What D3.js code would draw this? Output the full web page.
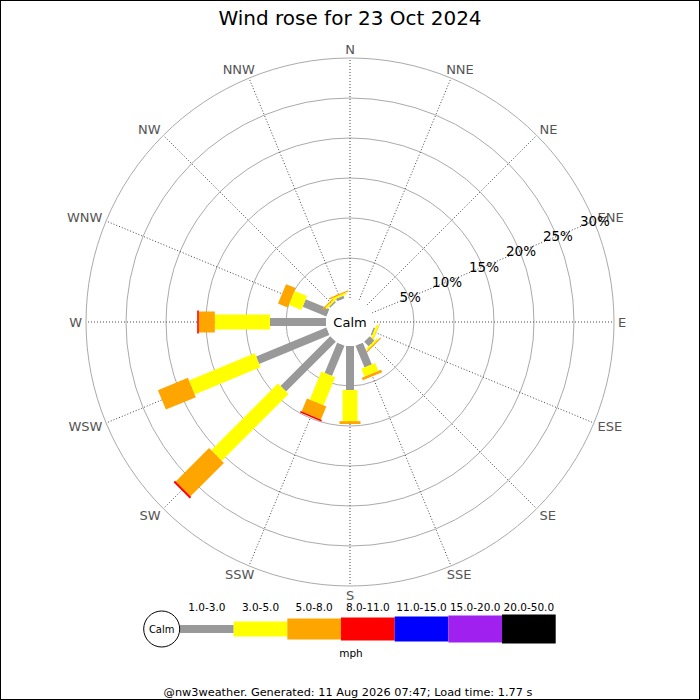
<!DOCTYPE html>
<html>
<head>
<meta charset="utf-8">
<script src="https://cdn.jsdelivr.net/npm/d3@7"></script>
<style>
  body { margin: 0; background: #fff; }
  text { font-family: "DejaVu Sans", sans-serif; }
</style>
</head>
<body>
<script>
var directions = ["N","NNE","NE","ENE","E","ESE","SE","SSE","S","SSW","SW","WSW","W","WNW","NW","NNW"]
var speedBins = ["1.0-3.0","3.0-5.0","5.0-8.0","8.0-11.0","11.0-15.0","15.0-20.0","20.0-50.0"]
// percent of the day per direction, one array per speed bin
var bin1 = [0,0,0,0,0,0.2,0.8,2.95,5.5,4.1,8.8,9.5,7.0,3.2,0.2,0.35]
var bin2 = [0,0,0,0,0,0.3,0.25,1.05,3.9,3.8,11.8,8.9,6.9,1.7,0.25,0.25]
var bin3 = [0,0,0,0,0,0.05,0.15,0.35,0.35,1.75,5.9,4.05,2.0,1.3,0.15,0.15]
var bin4 = [0,0,0,0,0,0,0,0,0,0.2,0.25,0,0.2,0,0,0]
var bin5 = [0,0,0,0,0,0,0,0,0,0,0,0,0,0,0,0]
var bin6 = [0,0,0,0,0,0,0,0,0,0,0,0,0,0,0,0]
var bin7 = [0,0,0,0,0,0,0,0,0,0,0,0,0,0,0,0]
var ringTicks = [5,10,15,20,25,30]
var title = "Wind rose for 23 Oct 2024"
var footer = "@nw3weather. Generated: 11 Aug 2026 07:47; Load time: 1.77 s"

var series = [bin1,bin2,bin3,bin4,bin5,bin6,bin7]
var colors = ["#999999","#ffff00","#ffa500","#ff0000","#0000ff","#a020f0","#000000"]
var barWidths = [8,15,21,23,25,27,29]

var width = 700, height = 700
var cx = 350, cy = 322

var svg = d3.select("body").append("svg")
            .attr("width", width)
            .attr("height", height)

svg.append("rect")
   .attr("x", 0.5).attr("y", 0.5)
   .attr("width", width - 1).attr("height", height - 1)
   .attr("fill", "#fff").attr("stroke", "#000")

svg.append("text")
   .attr("x", 350).attr("y", 25)
   .attr("text-anchor", "middle")
   .attr("font-size", "20px")
   .attr("fill", "#000")
   .text(title)

var r = d3.scaleLinear().domain([0, 30]).range([24, 264])
var angle = d3.scaleLinear().domain([0, directions.length]).range([0, 360])

var rose = svg.append("g").attr("transform", "translate(" + cx + "," + cy + ")")

// rings
rose.selectAll(".ring")
    .data(ringTicks)
    .enter()
      .append("circle")
      .attr("class", "ring")
      .attr("r", function(d) { return r(d) })
      .attr("fill", "none")
      .attr("stroke", "#aaa")
      .attr("stroke-width", 1)

// spokes
rose.selectAll(".spoke")
    .data(directions)
    .enter()
      .append("line")
      .attr("class", "spoke")
      .attr("x1", 0).attr("y1", 0)
      .attr("x2", function(d, i) { return r(30) * Math.sin(angle(i) * Math.PI / 180) })
      .attr("y2", function(d, i) { return -r(30) * Math.cos(angle(i) * Math.PI / 180) })
      .attr("stroke", "#444")
      .attr("stroke-width", 1)
      .attr("stroke-dasharray", "1,2")

// direction labels
rose.selectAll(".dirlabel")
    .data(directions)
    .enter()
      .append("text")
      .attr("class", "dirlabel")
      .attr("font-size", "13px")
      .attr("fill", "#555")
      .text(function(d) { return d })
      .each(function(d, i) {
        var a = angle(i) * Math.PI / 180
        var s = Math.sin(a), c = Math.cos(a)
        var px = (r(30) + 4) * s, py = -(r(30) + 4) * c
        var w = this.getComputedTextLength()
        var frac = Math.max(0, Math.min(1, 0.5 - 0.7 * s))
        d3.select(this)
          .attr("x", px - frac * w)
          .attr("y", py - c * 5 + 4.7)
      })

// calm circle
rose.append("circle")
    .attr("r", r(0))
    .attr("fill", "#fff")

// bars, stacked outward
var stacked = directions.map(function(d, i) {
  var start = 0
  return series.map(function(s, k) {
    var seg = {dir: i, bin: k, start: start, end: start + s[i]}
    start = start + s[i]
    return seg
  })
})

var dirGroups = rose.selectAll(".dir")
    .data(stacked)
    .enter()
      .append("g")
      .attr("class", "dir")
      .attr("transform", function(d, i) { return "rotate(" + angle(i) + ")" })

dirGroups.selectAll("rect")
    .data(function(d) { return d.filter(function(seg) { return seg.end > seg.start }) })
    .enter()
      .append("rect")
      .attr("x", function(d) { return -barWidths[d.bin] / 2 })
      .attr("y", function(d) { return -r(d.end) })
      .attr("width", function(d) { return barWidths[d.bin] })
      .attr("height", function(d) { return r(d.end) - r(d.start) })
      .attr("fill", function(d) { return colors[d.bin] })

rose.append("text")
    .attr("x", 0).attr("y", 0)
    .attr("dy", "0.35em")
    .attr("text-anchor", "middle")
    .attr("font-size", "13px")
    .attr("fill", "#000")
    .text("Calm")

// percent labels along ENE
var labelAngle = 67.5 * Math.PI / 180
rose.selectAll(".pct")
    .data(ringTicks)
    .enter()
      .append("text")
      .attr("class", "pct")
      .attr("x", function(d) { return r(d) * Math.sin(labelAngle) + 1 })
      .attr("y", function(d) { return -r(d) * Math.cos(labelAngle) })
      .attr("dy", "0.35em")
      .attr("text-anchor", "middle")
      .attr("font-size", "13.5px")
      .attr("fill", "#000")
      .text(function(d) { return d + "%" })

// legend
var lx = d3.scaleLinear().domain([0, speedBins.length]).range([180, 555.7])
var ly = 629
var legend = svg.append("g")

legend.selectAll(".lbar")
      .data(speedBins)
      .enter()
        .append("rect")
        .attr("x", function(d, i) { return lx(i) })
        .attr("y", function(d, i) { return ly - barWidths[i] / 2 })
        .attr("width", function(d, i) { return lx(i + 1) - lx(i) })
        .attr("height", function(d, i) { return barWidths[i] })
        .attr("fill", function(d, i) { return colors[i] })

legend.selectAll(".llabel")
      .data(speedBins)
      .enter()
        .append("text")
        .attr("x", function(d, i) { return (lx(i) + lx(i + 1)) / 2 })
        .attr("y", 611)
        .attr("text-anchor", "middle")
        .attr("font-size", "10.5px")
        .attr("fill", "#000")
        .text(function(d) { return d })

legend.append("circle")
      .attr("cx", 161.7).attr("cy", ly).attr("r", 18)
      .attr("fill", "#fff").attr("stroke", "#000")

legend.append("text")
      .attr("x", 161.7).attr("y", ly)
      .attr("dy", "0.35em")
      .attr("text-anchor", "middle")
      .attr("font-size", "10px")
      .text("Calm")

legend.append("text")
      .attr("x", 351).attr("y", 657)
      .attr("text-anchor", "middle")
      .attr("font-size", "10.5px")
      .text("mph")

svg.append("text")
   .attr("x", 348).attr("y", 696)
   .attr("text-anchor", "middle")
   .attr("font-size", "11.3px")
   .attr("fill", "#000")
   .text(footer)
</script>
</body>
</html>
